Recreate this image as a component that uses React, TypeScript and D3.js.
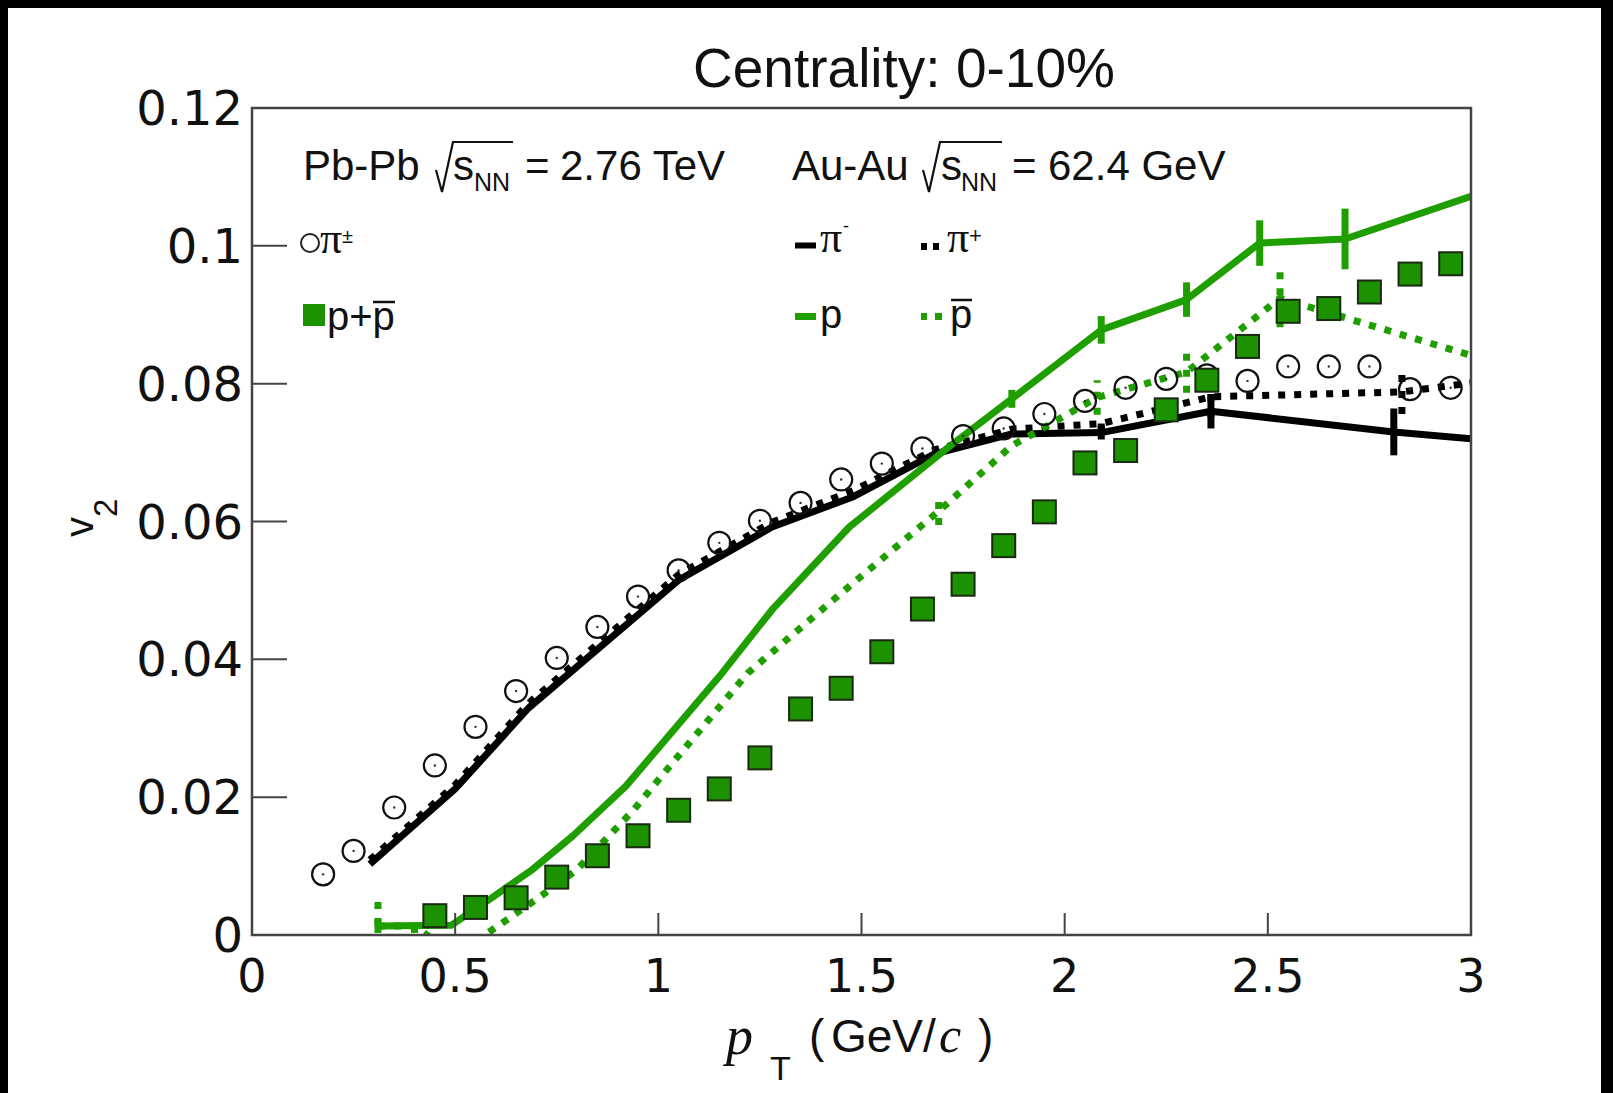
import React from 'react';
import * as d3 from 'd3';

// ---------- data ----------
const xTicks = [0, 0.5, 1, 1.5, 2, 2.5, 3];
const xTickLabels = ['0', '0.5', '1', '1.5', '2', '2.5', '3'];
const yTicks = [0, 0.02, 0.04, 0.06, 0.08, 0.1, 0.12];
const yTickLabels = ['0', '0.02', '0.04', '0.06', '0.08', '0.1', '0.12'];

// ALICE Pb-Pb 2.76 TeV, pi+-
const ptPiAlice = [0.175, 0.25, 0.35, 0.45, 0.55, 0.65, 0.75, 0.85, 0.95, 1.05, 1.15, 1.25, 1.35, 1.45, 1.55, 1.65, 1.75, 1.85, 1.95, 2.05, 2.15, 2.25, 2.35, 2.45, 2.55, 2.65, 2.75, 2.85, 2.95];
const v2PiAlice = [0.0088, 0.0122, 0.0185, 0.0246, 0.0302, 0.0354, 0.0402, 0.0447, 0.0491, 0.0529, 0.0569, 0.0601, 0.0627, 0.0661, 0.0684, 0.0706, 0.0724, 0.0735, 0.0756, 0.0775, 0.0794, 0.0807, 0.0812, 0.0804, 0.0825, 0.0825, 0.0825, 0.0792, 0.0794];

// ALICE Pb-Pb 2.76 TeV, p+pbar
const ptPrAlice = [0.45, 0.55, 0.65, 0.75, 0.85, 0.95, 1.05, 1.15, 1.25, 1.35, 1.45, 1.55, 1.65, 1.75, 1.85, 1.95, 2.05, 2.15, 2.25, 2.35, 2.45, 2.55, 2.65, 2.75, 2.85, 2.95];
const v2PrAlice = [0.0028, 0.0040, 0.0054, 0.0084, 0.0115, 0.0144, 0.0181, 0.0212, 0.0257, 0.0328, 0.0358, 0.0411, 0.0473, 0.0509, 0.0565, 0.0614, 0.0685, 0.0703, 0.0762, 0.0805, 0.0854, 0.0905, 0.0909, 0.0933, 0.0959, 0.0974];

// STAR Au-Au 62.4 GeV, pi-
const ptPiMinus = [0.29, 0.5, 0.68, 1.05, 1.28, 1.48, 1.68, 1.87, 2.09, 2.36, 2.81, 3.0];
const v2PiMinus = [0.0103, 0.0212, 0.0329, 0.0515, 0.0592, 0.0636, 0.0698, 0.0727, 0.0729, 0.0760, 0.0730, 0.0720];
const errPiMinus = [0, 0, 0, 0, 0, 0, 0, 0, 0.001, 0.0025, 0.0034, 0];

// STAR Au-Au 62.4 GeV, pi+
const ptPiPlus = [0.29, 0.5, 0.68, 1.05, 1.28, 1.48, 1.68, 1.87, 2.09, 2.36, 2.83, 3.0];
const v2PiPlus = [0.0109, 0.0218, 0.0336, 0.0523, 0.0599, 0.0645, 0.0704, 0.0734, 0.0742, 0.0781, 0.0788, 0.0801];
const errPiPlus = [0, 0, 0, 0, 0, 0, 0, 0, 0.001, 0.003, 0.0032, 0];

// STAR Au-Au 62.4 GeV, p
const ptP = [0.31, 0.49, 0.59, 0.69, 0.79, 0.92, 1.15, 1.28, 1.47, 1.71, 1.87, 2.09, 2.3, 2.48, 2.69, 3.0];
const v2P = [0.0013, 0.0014, 0.0054, 0.0095, 0.0144, 0.0216, 0.0375, 0.0472, 0.0592, 0.0706, 0.0778, 0.0878, 0.0922, 0.1004, 0.1010, 0.1072];
const errP = [0.001, 0, 0, 0, 0, 0, 0, 0, 0, 0, 0.0013, 0.002, 0.0025, 0.0033, 0.0044, 0];

// STAR Au-Au 62.4 GeV, pbar
const ptPbar = [0.31, 0.4, 0.5, 0.71, 0.8, 0.94, 1.0, 1.22, 1.45, 1.69, 1.87, 2.08, 2.3, 2.53, 3.0];
const v2Pbar = [0.0013, 0.0013, -0.003, 0.0056, 0.0095, 0.0182, 0.0225, 0.038, 0.0496, 0.0615, 0.071, 0.078, 0.0817, 0.0924, 0.0841];
const errPbar = [0.0045, 0.001, 0, 0, 0, 0, 0, 0, 0, 0.002, 0, 0.0025, 0.003, 0.0042, 0];

// ---------- styles ----------
const GREEN_LINE = '#1f9e00';
const GREEN_FILL = '#1d9200';
const SANS = '"Liberation Sans", Arial, Helvetica, sans-serif';
const TICKFONT = '"DejaVu Sans", "Liberation Sans", sans-serif';
const SERIF = '"Liberation Serif", "Times New Roman", serif';
const DOT = '7 9';

const W = 1613;
const H = 1093;
const L = 252, R = 1471, T = 108, B = 935;

type Pt = [number, number];

export default function App() {
  const x = d3.scaleLinear().domain([0, 3]).range([L, R]);
  const y = d3.scaleLinear().domain([0, 0.12]).range([B, T]);
  const line = d3.line<Pt>().x((d) => x(d[0])).y((d) => y(d[1]));
  const zip = (a: number[], b: number[]): Pt[] => a.map((v, i) => [v, b[i]]);

  const errBars = (pts: number[], vals: number[], errs: number[], color: string, dashed: boolean, key: string) =>
    pts.map((p, i) =>
      errs[i] > 0 ? (
        <line
          key={key + i}
          x1={x(p)}
          x2={x(p)}
          y1={y(vals[i] - errs[i])}
          y2={y(vals[i] + errs[i])}
          stroke={color}
          strokeWidth={7}
          strokeDasharray={dashed ? DOT : undefined}
        />
      ) : null
    );

  return (
    <svg width={W} height={H} style={{ position: 'absolute', left: 0, top: 0 }} xmlns="http://www.w3.org/2000/svg">
      <defs>
        <clipPath id="plotclip">
          <rect x={L} y={T} width={R - L} height={B - T} />
        </clipPath>
      </defs>
      <rect x={0} y={0} width={W} height={H} fill="#000" />
      <rect x={8} y={8} width={1593} height={H - 8} fill="#fff" />

      {/* title */}
      <text x={904} y={87} textAnchor="middle" fontFamily={SANS} fontSize={55} fill="#111">
        Centrality: 0-10%
      </text>

      {/* data lines */}
      <g clipPath="url(#plotclip)" fill="none">
        <path d={line(zip(ptPiMinus, v2PiMinus)) || ''} stroke="#000" strokeWidth={7} strokeLinejoin="round" />
        <path d={line(zip(ptPiPlus, v2PiPlus)) || ''} stroke="#000" strokeWidth={7} strokeDasharray={DOT} />
        <path d={line(zip(ptP, v2P)) || ''} stroke={GREEN_LINE} strokeWidth={7} strokeLinejoin="round" />
        <path d={line(zip(ptPbar, v2Pbar)) || ''} stroke={GREEN_LINE} strokeWidth={7} strokeDasharray={DOT} />
        {errBars(ptPiMinus, v2PiMinus, errPiMinus, '#000', false, 'em')}
        {errBars(ptPiPlus, v2PiPlus, errPiPlus, '#000', true, 'ep')}
        {errBars(ptP, v2P, errP, GREEN_LINE, false, 'pp')}
        {errBars(ptPbar, v2Pbar, errPbar, GREEN_LINE, true, 'pb')}
      </g>

      {/* ALICE pions: open circles */}
      {ptPiAlice.map((p, i) => (
        <g key={'c' + i}>
          <circle cx={x(p)} cy={y(v2PiAlice[i])} r={11} fill="none" stroke="#111" strokeWidth={2.2} />
          <circle cx={x(p)} cy={y(v2PiAlice[i])} r={1.2} fill="#333" />
        </g>
      ))}

      {/* ALICE protons: filled squares */}
      {ptPrAlice.map((p, i) => (
        <rect
          key={'s' + i}
          x={x(p) - 11.5}
          y={y(v2PrAlice[i]) - 11.5}
          width={23}
          height={23}
          fill={GREEN_FILL}
          stroke="#1a2a12"
          strokeWidth={2}
        />
      ))}

      {/* frame */}
      <rect x={L} y={T} width={R - L} height={B - T} fill="none" stroke="#444" strokeWidth={2.5} />
      {xTicks.map((t, i) => (
        <g key={'xt' + i}>
          <line x1={x(t)} x2={x(t)} y1={B} y2={B - 22} stroke="#444" strokeWidth={2} />
          <text x={x(t)} y={992} textAnchor="middle" fontFamily={TICKFONT} fontSize={46} fill="#111">
            {xTickLabels[i]}
          </text>
        </g>
      ))}
      {yTicks.map((t, i) => (
        <g key={'yt' + i}>
          <line x1={L} x2={L + 35} y1={y(t)} y2={y(t)} stroke="#444" strokeWidth={2} />
          <text x={243} y={y(t) + 17} textAnchor="end" fontFamily={TICKFONT} fontSize={48} fill="#111">
            {yTickLabels[i]}
          </text>
        </g>
      ))}

      {/* axis titles */}
      <g transform="translate(93,537) rotate(-90)">
        <text x={0} y={0} fontFamily={SANS} fontSize={40} fill="#111">
          v
          <tspan fontSize={33} dy={24}>2</tspan>
        </text>
      </g>
      <text x={726} y={1054} fontFamily={SERIF} fontSize={54} fontStyle="italic" fill="#111">p</text>
      <text x={770} y={1080} fontFamily={SANS} fontSize={34} fill="#111">T</text>
      <text y={1052} fontFamily={SANS} fontSize={46} fill="#111">
        <tspan x={809}>(</tspan>
        <tspan x={831}>GeV/</tspan>
      </text>
      <text x={939} y={1052} fontFamily={SERIF} fontSize={50} fontStyle="italic" fill="#111">c</text>
      <text x={978} y={1052} fontFamily={SANS} fontSize={46} fill="#111">)</text>

      {/* legend headers */}
      <text y={180} fontFamily={SANS} fontSize={42} fill="#111">
        <tspan x={303}>Pb-Pb</tspan>
        <tspan x={453}>s</tspan>
        <tspan x={474} fontSize={25} dy={11}>NN</tspan>
        <tspan x={525} dy={-11}>=</tspan>
        <tspan x={560}>2.76 TeV</tspan>
      </text>
      <path d="M436,170 L442,192 L453,142 L513,142" fill="none" stroke="#111" strokeWidth={2.2} />

      <text y={180} fontFamily={SANS} fontSize={42} fill="#111">
        <tspan x={792}>Au-Au</tspan>
        <tspan x={941}>s</tspan>
        <tspan x={961} fontSize={25} dy={11}>NN</tspan>
        <tspan x={1012} dy={-11}>=</tspan>
        <tspan x={1048}>62.4 GeV</tspan>
      </text>
      <path d="M923,170 L929,192 L940,142 L1002,142" fill="none" stroke="#111" strokeWidth={2.2} />

      {/* legend entries, left column */}
      <circle cx={310} cy={243} r={9} fill="none" stroke="#222" strokeWidth={2} />
      <text x={320} y={253} fontFamily={SERIF} fontSize={44} fill="#111">π</text>
      <text x={342} y={243} fontFamily={SANS} fontSize={20} fill="#111">±</text>

      <rect x={303} y={304} width={22} height={22} fill={GREEN_FILL} />
      <text x={327} y={330} fontFamily={SANS} fontSize={40} fill="#111">p+p</text>
      <line x1={373} x2={395} y1={302} y2={302} stroke="#111" strokeWidth={2.5} />

      {/* legend entries, right column */}
      <line x1={795} x2={816} y1={245.5} y2={245.5} stroke="#000" strokeWidth={6} />
      <text x={820} y={252} fontFamily={SERIF} fontSize={44} fill="#111">π</text>
      <text x={843} y={232} fontFamily={SANS} fontSize={18} fill="#111">-</text>

      <rect x={921} y={243} width={6} height={7} fill="#000" />
      <rect x={933} y={243} width={6} height={7} fill="#000" />
      <text x={947} y={252} fontFamily={SERIF} fontSize={44} fill="#111">π</text>
      <text x={969} y={243} fontFamily={SANS} fontSize={22} fill="#111">+</text>

      <line x1={795} x2={816} y1={316.5} y2={316.5} stroke={GREEN_LINE} strokeWidth={7} />
      <text x={820} y={328} fontFamily={SANS} fontSize={40} fill="#111">p</text>

      <rect x={921} y={313} width={6} height={7} fill={GREEN_LINE} />
      <rect x={935} y={313} width={7} height={7} fill={GREEN_LINE} />
      <text x={950} y={328} fontFamily={SANS} fontSize={40} fill="#111">p</text>
      <line x1={951} x2={972} y1={300} y2={300} stroke="#111" strokeWidth={2.5} />
    </svg>
  );
}
